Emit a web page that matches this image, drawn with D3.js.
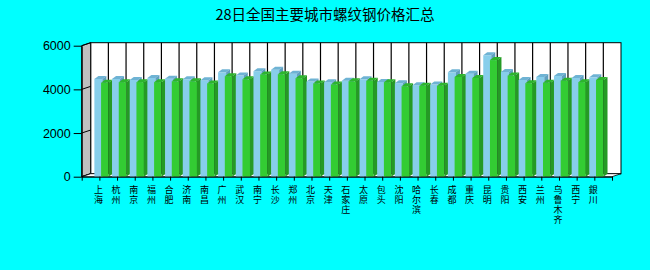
<!DOCTYPE html>
<html>
<head>
<meta charset="utf-8">
<script src="https://cdn.jsdelivr.net/npm/d3@7"></script>
<style>
  html, body { margin: 0; padding: 0; background: #00ffff; }
  svg { display: block; }
</style>
</head>
<body>
<div id="chart"></div>
<script>
(function () {

  const title = '28日全国主要城市螺纹钢价格汇总';

  const cities = [
    '上海', '杭州', '南京', '福州', '合肥', '济南', '南昌', '广州', '武汉', '南宁',
    '长沙', '郑州', '北京', '天津', '石家庄', '太原', '包头', '沈阳', '哈尔滨', '长春',
    '成都', '重庆', '昆明', '贵阳', '西安', '兰州', '乌鲁木齐', '西宁', '銀川'
  ];

  const seriesBlue = [
    4480, 4480, 4430, 4520, 4490, 4460, 4420, 4780, 4630, 4830,
    4900, 4720, 4360, 4330, 4400, 4460, 4340, 4280, 4190, 4220,
    4780, 4720, 5560, 4800, 4430, 4570, 4610, 4520, 4550
  ];

  const seriesGreen = [
    4300, 4330, 4330, 4330, 4370, 4370, 4270, 4600, 4460, 4680,
    4690, 4510, 4270, 4220, 4370, 4390, 4330, 4140, 4160, 4160,
    4570, 4520, 5340, 4630, 4280, 4300, 4400, 4330, 4430
  ];

  const yTicks = [0, 2000, 4000, 6000];

  const width = 650,
    height = 270;

  // wall depth offset
  const DX = 9, DY = -3;
  // bar depth offset
  const BX = 4, BY = -3;

  const x = d3.scaleLinear().domain([0, cities.length + 1]).range([81.7, 612]);
  const y = d3.scaleLinear().domain([0, 6000]).range([176.7, 45.7]);

  const svg = d3.select('#chart')
    .append('svg')
    .attr('width', width)
    .attr('height', height);

  svg.append('rect')
    .attr('width', width)
    .attr('height', height)
    .attr('fill', '#00ffff');

  svg.append('text')
    .attr('x', 325)
    .attr('y', 20)
    .attr('text-anchor', 'middle')
    .attr('font-family', '"Noto Sans CJK SC", sans-serif')
    .attr('font-size', 14.5)
    .attr('fill', '#000')
    .text(title);

  const x0 = x(0), x1 = x(cities.length + 1);
  const yTop = y(6000), yBot = y(0);

  // back wall
  svg.append('rect')
    .attr('x', x0 + DX)
    .attr('y', yTop + DY)
    .attr('width', x1 - x0)
    .attr('height', yBot - yTop)
    .attr('fill', '#fff')
    .attr('stroke', '#000')
    .attr('stroke-width', 1);

  // vertical grid lines on the back wall
  svg.append('g')
    .selectAll('line')
    .data(d3.range(1, cities.length + 1))
    .enter()
    .append('line')
    .attr('x1', d => x(d) + DX)
    .attr('x2', d => x(d) + DX)
    .attr('y1', yTop + DY)
    .attr('y2', yBot + DY)
    .attr('stroke', '#000')
    .attr('stroke-width', 1.2);

  // side wall
  svg.append('polygon')
    .attr('points', [
      [x0, yTop], [x0 + DX, yTop + DY], [x0 + DX, yBot + DY], [x0, yBot]
    ].join(' '))
    .attr('fill', '#c0c0c0')
    .attr('stroke', '#000')
    .attr('stroke-width', 1);

  svg.append('g')
    .selectAll('line')
    .data(yTicks)
    .enter()
    .append('line')
    .attr('x1', x0)
    .attr('x2', x0 + DX)
    .attr('y1', d => y(d))
    .attr('y2', d => y(d) + DY)
    .attr('stroke', '#000');

  // floor
  svg.append('polygon')
    .attr('points', [
      [x0, yBot], [x1, yBot], [x1 + DX, yBot + DY], [x0 + DX, yBot + DY]
    ].join(' '))
    .attr('fill', '#fff')
    .attr('stroke', '#000')
    .attr('stroke-width', 0.8);

  // bars
  const bars = cities.map((c, i) => ({ i: i + 1, blue: seriesBlue[i], green: seriesGreen[i] }));

  const styles = {
    blue: { off: -5, w: 8, front: '#87ceeb', top: '#6eb3d4', side: '#5f9fc0' },
    green: { off: 1.7, w: 7.5, front: '#33cc33', top: '#2db52d', side: '#259a25' }
  };

  function drawBar(g, d, key) {
    const s = styles[key];
    const bx = x(d.i) + s.off;
    const ty = y(d[key]);
    g.append('rect')
      .attr('x', bx)
      .attr('y', ty)
      .attr('width', s.w)
      .attr('height', yBot - ty)
      .attr('fill', s.front);
    g.append('polygon')
      .attr('points', [
        [bx, ty], [bx + BX, ty + BY], [bx + s.w + BX, ty + BY], [bx + s.w, ty]
      ].join(' '))
      .attr('fill', s.top);
    g.append('polygon')
      .attr('points', [
        [bx + s.w, ty], [bx + s.w + BX, ty + BY], [bx + s.w + BX, yBot + BY], [bx + s.w, yBot]
      ].join(' '))
      .attr('fill', s.side);
  }

  const barG = svg.append('g');
  bars.forEach(d => {
    drawBar(barG, d, 'blue');
    drawBar(barG, d, 'green');
  });

  // x axis
  const xAxis = d3.axisBottom(x)
    .tickValues(d3.range(0, cities.length + 2))
    .tickSize(4)
    .tickSizeOuter(0)
    .tickFormat('');

  svg.append('g')
    .attr('transform', `translate(0, ${yBot})`)
    .call(xAxis)
    .call(g => g.selectAll('line, path').attr('stroke', '#000'));

  // vertical city labels
  svg.append('g')
    .attr('font-family', '"Noto Sans CJK SC", sans-serif')
    .attr('font-size', 9)
    .attr('fill', '#000')
    .selectAll('text')
    .data(cities)
    .enter()
    .append('text')
    .style('writing-mode', 'vertical-rl')
    .style('text-orientation', 'upright')
    .style('letter-spacing', '1px')
    .attr('x', (d, i) => x(i + 1) - 1)
    .attr('y', 185)
    .text(d => d);

  // y axis
  const yAxis = d3.axisLeft(y)
    .tickValues(yTicks)
    .tickSize(8)
    .tickSizeOuter(0)
    .tickFormat(d3.format('d'));

  svg.append('g')
    .attr('transform', `translate(${x0}, 0)`)
    .call(yAxis)
    .call(g => g.selectAll('line, path').attr('stroke', '#000'))
    .call(g => g.selectAll('text')
      .attr('font-family', '"Liberation Sans", Arial, sans-serif')
      .attr('font-size', 12.5)
      .attr('fill', '#000'));

}) ();
</script>
</body>
</html>
